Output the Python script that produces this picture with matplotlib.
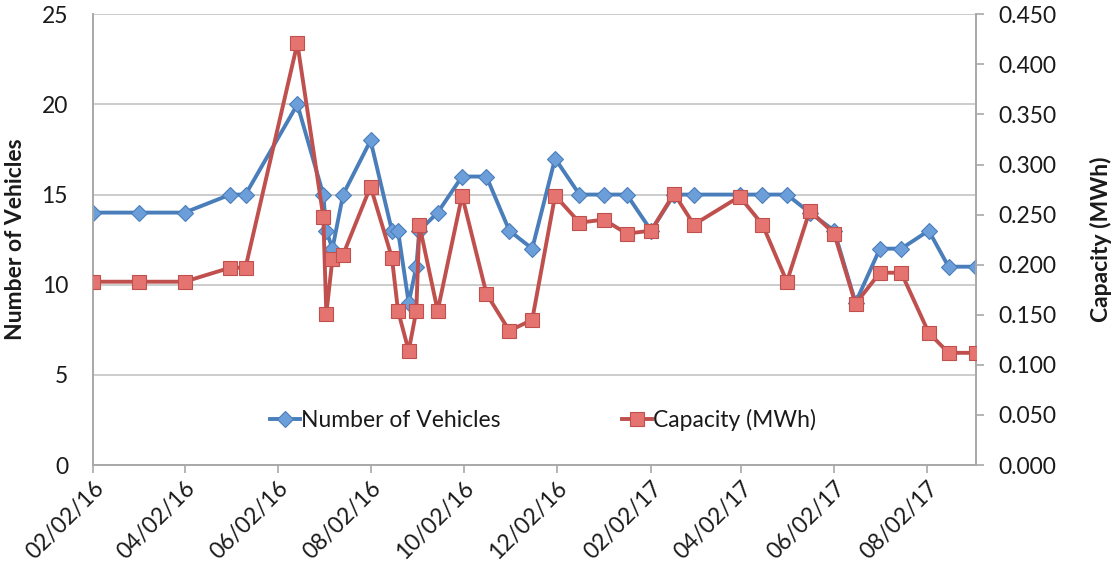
import matplotlib
matplotlib.use("Agg")
import matplotlib.pyplot as plt
import matplotlib.dates as mdates
import pandas as pd
from matplotlib.ticker import FixedLocator, FormatStrFormatter

dates = ['2016-02-02', '2016-03-03', '2016-04-02', '2016-05-02', '2016-05-12', '2016-06-15',
         '2016-07-02', '2016-07-04', '2016-07-08', '2016-07-15', '2016-08-02', '2016-08-16',
         '2016-08-20', '2016-08-27', '2016-09-01', '2016-09-03', '2016-09-15', '2016-10-01',
         '2016-10-17', '2016-11-01', '2016-11-16', '2016-12-01', '2016-12-17', '2017-01-02',
         '2017-01-17', '2017-02-02', '2017-02-17', '2017-03-02', '2017-04-01', '2017-04-16',
         '2017-05-02', '2017-05-17', '2017-06-02', '2017-06-16', '2017-07-02', '2017-07-16',
         '2017-08-03', '2017-08-16', '2017-09-03']
vehicles = [14, 14, 14, 15, 15, 20, 15, 13, 12, 15, 18, 13, 13, 9, 11, 13, 14, 16, 16, 13,
            12, 17, 15, 15, 15, 13, 15, 15, 15, 15, 15, 14, 13, 9, 12, 12, 13, 11, 11]
capacity = [0.183, 0.183, 0.183, 0.197, 0.197, 0.421, 0.248, 0.151, 0.206, 0.210, 0.278,
            0.207, 0.154, 0.114, 0.154, 0.240, 0.154, 0.269, 0.171, 0.134, 0.145, 0.269,
            0.242, 0.245, 0.231, 0.234, 0.271, 0.240, 0.268, 0.240, 0.183, 0.254, 0.231,
            0.161, 0.192, 0.192, 0.132, 0.112, 0.112]
tick_dates = ['2016-02-02', '2016-04-02', '2016-06-02', '2016-08-02', '2016-10-02',
              '2016-12-02', '2017-02-02', '2017-04-02', '2017-06-02', '2017-08-02']
left_ticks = [0, 5, 10, 15, 20, 25]
right_ticks = [0.0, 0.05, 0.1, 0.15, 0.2, 0.25, 0.3, 0.35, 0.4, 0.45]

plt.rcParams['font.family'] = ['Lato', 'DejaVu Sans']
TXT = '#1a1a1a'
GRID = '#c4c4c4'
SPINE = '#a8a8a8'
FS = 16.5

x = pd.to_datetime(dates)
fig = plt.figure(figsize=(11.18, 5.71), dpi=100)
ax1 = fig.add_axes([93 / 1118, 1 - 465 / 571, (976 - 93) / 1118, (465 - 14.3) / 571])
ax2 = ax1.twinx()

l1, = ax1.plot(x, vehicles, color='#4a7ebb', lw=2.8, marker='D', ms=8,
               mfc='#6c9fd9', mec='#4a7ebb', mew=0.8, label='Number of Vehicles', zorder=3)
l2, = ax2.plot(x, capacity, color='#c0504d', lw=2.8, marker='s', ms=9.5,
               mfc='#e57470', mec='#c0504d', mew=0.8, label='Capacity (MWh)', zorder=3)

ax1.set_xlim(pd.Timestamp('2016-02-02'), pd.Timestamp('2017-09-03'))
ax1.set_ylim(0, 25)
ax2.set_ylim(0, 0.45)

ax1.yaxis.set_major_locator(FixedLocator(left_ticks))
ax2.yaxis.set_major_locator(FixedLocator(right_ticks))
ax2.yaxis.set_major_formatter(FormatStrFormatter('%.3f'))
ax1.xaxis.set_major_locator(FixedLocator(mdates.date2num(pd.to_datetime(tick_dates))))
ax1.xaxis.set_major_formatter(mdates.DateFormatter('%m/%d/%y'))

ax1.grid(axis='y', color=GRID, lw=1.2)
ax1.set_axisbelow(True)

for ax in (ax1, ax2):
    ax.spines['top'].set_visible(False)
    for s in ('left', 'right', 'bottom'):
        ax.spines[s].set_color(SPINE)
        ax.spines[s].set_linewidth(1.2)

ax1.tick_params(axis='y', length=0, pad=18, labelsize=FS, labelcolor=TXT)
ax1.tick_params(axis='x', length=6, width=1.2, color=SPINE, labelsize=FS, labelcolor=TXT, pad=3)
ax2.tick_params(axis='y', length=6, width=1.2, color=SPINE, pad=10, labelsize=FS, labelcolor=TXT)
for lab in ax1.get_xticklabels():
    lab.set_rotation(45)
    lab.set_ha('right')
    lab.set_va('top')
    lab.set_rotation_mode('anchor')

ax1.set_ylabel('Number of Vehicles', fontsize=FS, fontweight='bold', color=TXT, labelpad=11)
ax2.set_ylabel('Capacity (MWh)', fontsize=FS, fontweight='bold', color=TXT, labelpad=24)

leg = ax2.legend([l1, l2], ['Number of Vehicles', 'Capacity (MWh)'], ncol=2, frameon=False,
                 loc='center', bbox_to_anchor=(0.51, 0.1), fontsize=FS,
                 handlelength=1.3, handletextpad=0.05, columnspacing=5.3)
for t in leg.get_texts():
    t.set_color(TXT)

fig.savefig('out.png', dpi=100)
